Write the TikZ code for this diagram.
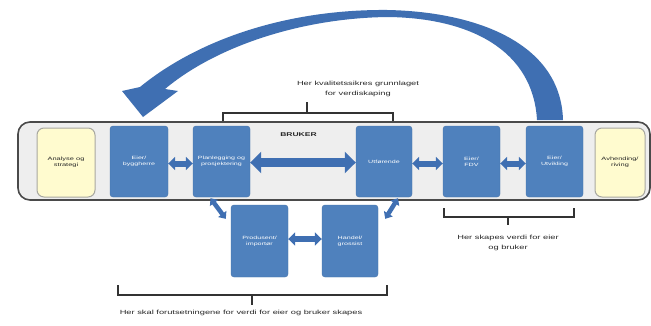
\documentclass[tikz,border=0pt]{standalone}
\usepackage{fontspec}
\setmainfont{Liberation Sans}
\newfontfamily\wfont[FakeStretch=1.55]{Liberation Sans}
\usetikzlibrary{arrows.meta}
\definecolor{boxblue}{HTML}{4F81BD}
\definecolor{arrblue}{HTML}{3F6FB2}
\definecolor{bandfill}{HTML}{EEEEEE}
\definecolor{bandline}{HTML}{4A4A4A}
\definecolor{yelfill}{HTML}{FFFBCF}
\definecolor{yelline}{HTML}{A8A8A0}
\tikzset{
  bluebox/.style={draw=boxblue!90!black, line width=0.4pt, fill=boxblue, rounded corners=3pt,
    text=white, align=center, inner sep=1pt, font=\wfont\fontsize{4.6}{6.2}\selectfont},
  yelbox/.style={draw=yelline, line width=1pt, fill=yelfill, rounded corners=7pt,
    text=black!85, align=center, inner sep=1pt, font=\wfont\fontsize{4.8}{6.4}\selectfont},
  small/.style={text=black!85, align=center, inner sep=0pt, font=\wfont\fontsize{6}{10}\selectfont},
  brk/.style={draw=black!80, line width=1.1pt},
  dblbig/.style={draw=arrblue, line width=9pt, {Triangle[length=11pt,width=21pt]}-{Triangle[length=11pt,width=21pt]}},
  dblsm/.style={draw=arrblue, line width=6pt, {Triangle[length=7pt,width=13pt]}-{Triangle[length=7pt,width=13pt]}},
  dbldiag/.style={draw=arrblue, line width=4.5pt, {Triangle[length=6pt,width=10pt]}-{Triangle[length=6pt,width=10pt]}},
}
\begin{document}
\begin{tikzpicture}[x=1pt,y=-1pt]
\useasboundingbox (0,0) rectangle (651,325);
\fill[white] (0,0) rectangle (651,325);

% band
\draw[draw=bandline, line width=1.6pt, fill=bandfill, rounded corners=12pt] (18,122) rectangle (650,200);

% big curved arrow
\fill[arrblue] (563,120) .. controls (561,45) and (480,12) .. (388,10)
  .. controls (290,9) and (200,38) .. (140,87) -- (122,91) -- (143,117) -- (178,91) -- (165,89)
  .. controls (215,47) and (300,18) .. (388,17)
  .. controls (470,18) and (533,50) .. (537,120) -- cycle;

% boxes
\node[yelbox, minimum width=58pt, minimum height=69pt] (ana) at (66,162.5) {Analyse og\\strategi};
\node[bluebox, minimum width=58pt, minimum height=71pt] (b1) at (139,161.5) {Eier/\\byggherre};
\node[bluebox, minimum width=57pt, minimum height=71pt] (b2) at (221.5,161.5) {Planlegging og\\prosjektering};
\node[bluebox, minimum width=56pt, minimum height=71pt] (b3) at (384,161.5) {Utførende};
\node[bluebox, minimum width=57pt, minimum height=71pt] (b4) at (471.5,161.5) {Eier/\\FDV};
\node[bluebox, minimum width=57pt, minimum height=71pt] (b5) at (554.5,161.5) {Eier/\\Utvikling};
\node[yelbox, minimum width=50pt, minimum height=69pt] (avh) at (620,162.5) {Avhending/\\riving};
\node[bluebox, minimum width=57pt, minimum height=72pt] (pA) at (259.5,241) {Produsent/\\importør};
\node[bluebox, minimum width=56pt, minimum height=72pt] (pB) at (350,241) {Handel/\\grossist};

\node[font=\wfont\fontsize{5.5}{6}\selectfont\bfseries, text=black!85, inner sep=0pt] (bruker) at (298.5,135) {BRUKER};

% double arrows
\draw[dblsm] ([yshift=-2pt]b1.east) -- ([yshift=-2pt]b2.west);
\draw[dblbig] ([yshift=-1pt]b2.east) -- ([yshift=-1pt]b3.west);
\draw[dblsm] ([yshift=-2pt]b3.east) -- ([yshift=-2pt]b4.west);
\draw[dblsm] ([yshift=-2pt]b4.east) -- ([yshift=-2pt]b5.west);
\draw[dblsm] ([yshift=2pt]pA.east) -- ([yshift=2pt]pB.west);
\draw[dbldiag] ([xshift=-11pt,yshift=-1pt]b2.south) -- ([xshift=-5pt,yshift=-14pt]pA.north west);
\draw[dbldiag] ([xshift=14pt,yshift=-1pt]b3.south) -- ([xshift=7pt,yshift=-14pt]pB.north east);

% top bracket
\draw[brk] (223,121) -- (223,113) -- (393,113) -- (393,121);
\draw[brk] (307,113) -- (307,102);
\node[small] (t1) at (358,89) {Her kvalitetssikres grunnlaget\\for verdiskaping};

% right bracket
\draw[brk] (444,208) -- (444,217) -- (574,217) -- (574,208);
\draw[brk] (508,217) -- (508,225);
\node[small] (t2) at (508,243) {Her skapes verdi for eier\\og bruker};

% bottom bracket
\draw[brk] (118,285) -- (118,295) -- (387,295) -- (387,285);
\draw[brk] (252,295) -- (252,305);
\node[small] (t3) at (241,313) {Her skal forutsetningene for verdi for eier og bruker skapes};
\end{tikzpicture}
\end{document}
